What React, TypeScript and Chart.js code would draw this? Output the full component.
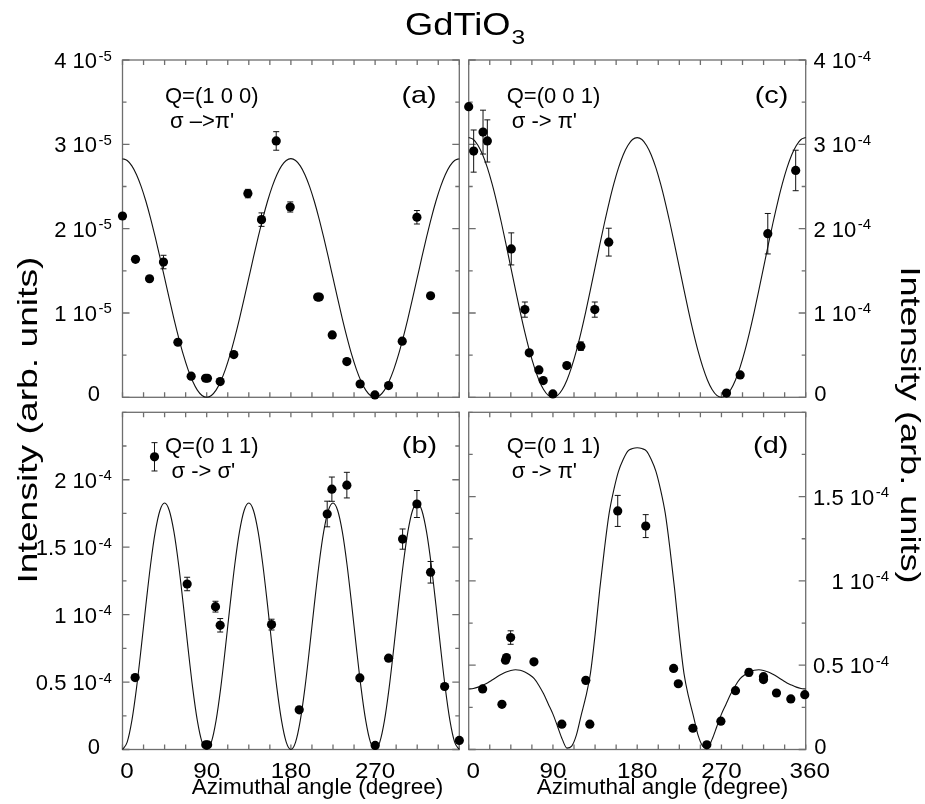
import React, { useEffect, useRef } from "react";
import { Chart, registerables } from "chart.js";

Chart.register(...registerables);

const FONT = '"Liberation Sans", Arimo, Arial, Helvetica, sans-serif';
const FRAME = "#6e6e6e";

// ---------- fitted curves, read every 5 degrees ----------
const curveAngles = [0,5,10,15,20,25,30,35,40,45,50,55,60,65,70,75,80,85,90,95,100,105,110,115,120,125,130,135,140,145,150,155,160,165,170,175,180,185,190,195,200,205,210,215,220,225,230,235,240,245,250,255,260,265,270,275,280,285,290,295,300,305,310,315,320,325,330,335,340,345,350,355,360];

const aCurve = [2.830,2.808,2.745,2.640,2.499,2.325,2.123,1.899,1.661,1.415,1.169,0.931,0.708,0.505,0.331,0.190,0.085,0.022,0.000,
0.022,0.085,0.190,0.331,0.505,0.708,0.931,1.169,1.415,1.661,1.899,2.123,2.325,2.499,2.640,2.745,2.808,2.830,
2.808,2.745,2.640,2.499,2.325,2.123,1.899,1.661,1.415,1.169,0.931,0.708,0.505,0.331,0.190,0.085,0.022,0.000,
0.022,0.085,0.190,0.331,0.505,0.708,0.931,1.169,1.415,1.661,1.899,2.123,2.325,2.499,2.640,2.745,2.808,2.830];

const cCurve = [3.080,3.057,2.987,2.874,2.720,2.530,2.310,2.067,1.807,1.540,1.273,1.013,0.770,0.550,0.360,0.206,0.093,0.023,0.000,
0.023,0.093,0.206,0.360,0.550,0.770,1.013,1.273,1.540,1.807,2.067,2.310,2.530,2.720,2.874,2.987,3.057,3.080,
3.057,2.987,2.874,2.720,2.530,2.310,2.067,1.807,1.540,1.273,1.013,0.770,0.550,0.360,0.206,0.093,0.023,0.000,
0.023,0.093,0.206,0.360,0.550,0.770,1.013,1.273,1.540,1.807,2.067,2.310,2.530,2.720,2.874,2.987,3.057,3.080];

const bCurve = [0,0.055,0.214,0.457,0.755,1.072,1.370,1.613,1.772,1.827,1.772,1.613,1.370,1.072,0.755,0.457,0.214,0.055,
0,0.055,0.214,0.457,0.755,1.072,1.370,1.613,1.772,1.827,1.772,1.613,1.370,1.072,0.755,0.457,0.214,0.055,
0,0.055,0.214,0.457,0.755,1.072,1.370,1.613,1.772,1.827,1.772,1.613,1.370,1.072,0.755,0.457,0.214,0.055,
0,0.055,0.214,0.457,0.755,1.072,1.370,1.613,1.772,1.827,1.772,1.613,1.370,1.072,0.755,0.457,0.214,0.055,0];

const dCurve = [0.359,0.362,0.370,0.382,0.395,0.412,0.430,0.446,0.460,0.469,0.473,0.470,0.460,0.443,0.420,0.380,0.330,0.270,0.210,0.135,0.060,0.008,0.020,0.085,0.200,0.310,0.450,0.680,0.950,1.190,1.400,1.540,1.650,1.720,1.770,1.785,1.790,
1.785,1.770,1.720,1.650,1.540,1.400,1.190,0.950,0.680,0.450,0.310,0.200,0.085,0.020,0.008,0.060,0.135,0.210,0.270,0.330,0.380,0.420,0.443,0.460,0.470,0.473,0.469,0.460,0.446,0.430,0.412,0.395,0.382,0.370,0.362,0.359];

// ---------- measured points ----------
// (a) Q=(1 0 0) sigma->pi', units of 1e-5
const aAngles = [0,13.9,28.9,43.8,59.2,73.4,88.8,90.8,104.4,119,134,148.6,164.3,179.3,208.6,210.4,224.2,239.8,254,269.8,284.4,299,314.7,329.3];
const aValues = [2.15,1.636,1.406,1.604,0.653,0.25,0.226,0.226,0.186,0.507,2.416,2.107,3.04,2.257,1.188,1.188,0.74,0.424,0.158,0.028,0.139,0.665,2.135,1.204];
const aErrors = [0,0,0,0.08,0,0,0,0,0,0,0.05,0.08,0.11,0.06,0,0,0,0,0,0,0,0,0.08,0];

// (c) Q=(0 0 1) sigma->pi', units of 1e-4
const cAngles = [0,5.3,15.3,19.9,45.5,60,64.7,75,79.6,89.9,104.8,119.8,134.7,149.6,275.4,290,319.5,349.3];
const cValues = [3.446,2.92,3.145,3.04,1.76,1.04,0.527,0.325,0.198,0.04,0.376,0.606,1.04,1.84,0.05,0.265,1.94,2.69];
const cErrors = [0,0.25,0.26,0.25,0.19,0.09,0,0,0,0,0,0.05,0.09,0.165,0,0,0.24,0.24];

// (b) Q=(0 1 1) sigma->sigma', units of 1e-4
const bAngles = [13.5,34.2,69.1,89,91,99.4,104.4,159.3,188.9,218.8,223.8,239.8,253.7,270.1,284.4,299.4,314.7,329.3,344.3,360];
const bValues = [0.533,2.17,1.227,0.035,0.035,1.059,0.921,0.926,0.294,1.746,1.93,1.96,0.531,0.03,0.677,1.56,1.82,1.314,0.467,0.067];
const bErrors = [0,0.105,0.05,0,0,0.04,0.05,0.04,0,0.095,0.09,0.095,0,0,0.02,0.075,0.1,0.08,0,0];

// (d) Q=(0 1 1) sigma->pi', units of 1e-4
const dAngles = [14.9,35.5,39.3,40.3,44.8,69.7,99.5,125.1,129.4,159.2,189.1,218.9,223.9,239.5,254.4,269.4,285,299.3,314.9,314.9,328.8,344.1,359];
const dValues = [0.359,0.268,0.53,0.545,0.664,0.52,0.15,0.41,0.15,1.415,1.325,0.481,0.39,0.126,0.028,0.168,0.349,0.457,0.432,0.415,0.335,0.30,0.325];
const dErrors = [0,0,0,0,0.04,0,0,0,0,0.092,0.068,0,0,0,0,0,0,0.02,0,0,0,0,0];

// ---------- ticks ----------
const xTickValues = [0,22.5,45,67.5,90,112.5,135,157.5,180,202.5,225,247.5,270,292.5,315,337.5,360];
const bXLabelValues = [0,90,180,270];
const bXLabels = ["0","90","180","270"];
const dXLabelValues = [0,90,180,270,360];
const dXLabels = ["0","90","180","270","360"];

const aYTicks = [0,0.5,1,1.5,2,2.5,3,3.5,4];
const aYLabelValues = [0,1,2,3,4];
const aYLabels = ["0","1 10^-5","2 10^-5","3 10^-5","4 10^-5"];
const cYTicks = [0,0.5,1,1.5,2,2.5,3,3.5,4];
const cYLabelValues = [0,1,2,3,4];
const cYLabels = ["0","1 10^-4","2 10^-4","3 10^-4","4 10^-4"];
const bYTicks = [0,0.25,0.5,0.75,1,1.25,1.5,1.75,2,2.25,2.5];
const bYLabelValues = [0,0.5,1,1.5,2];
const bYLabels = ["0","0.5 10^-4","1 10^-4","1.5 10^-4","2 10^-4"];
const dYTicks = [0,0.25,0.5,0.75,1,1.25,1.5,1.75,2];
const dYLabelValues = [0,0.5,1,1.5];
const dYLabels = ["0","0.5 10^-4","1 10^-4","1.5 10^-4"];

const TITLE = "GdTiO";
const TITLE_SUB = "3";
const Y_TITLE = "Intensity (arb. units)";
const X_TITLE = "Azimuthal angle (degree)";

type Panel = {
  key: string;
  area: { l: number; t: number; r: number; b: number };
  yMax: number;
  angles: number[]; values: number[]; errors: number[]; curve: number[];
  yTicks: number[]; yLabelValues: number[]; yLabels: string[];
  side: "left" | "right"; anchor: number;
  xLabelValues?: number[]; xLabels?: string[]; xTitleX?: number;
  q: string; s: string; tag: string; qdx: number; sdx: number; tagdx: number; qdy: number;
};

const PANELS: Panel[] = [
  { key: "a", area: { l: 122.5, t: 60, r: 459.3, b: 397.3 }, yMax: 4,
    angles: aAngles, values: aValues, errors: aErrors, curve: aCurve,
    yTicks: aYTicks, yLabelValues: aYLabelValues, yLabels: aYLabels, side: "left", anchor: -25.5,
    q: "Q=(1 0 0)", s: "σ –>π'", tag: "(a)", qdx: 42.5, sdx: 47.5, tagdx: 22.6, qdy: 43 },
  { key: "c", area: { l: 468.7, t: 60, r: 805.7, b: 397.3 }, yMax: 4,
    angles: cAngles, values: cValues, errors: cErrors, curve: cCurve,
    yTicks: cYTicks, yLabelValues: cYLabelValues, yLabels: cYLabels, side: "right", anchor: 50.5,
    q: "Q=(0 0 1)", s: "σ -> π'", tag: "(c)", qdx: 38, sdx: 43, tagdx: 17.4, qdy: 43 },
  { key: "b", area: { l: 122.5, t: 412.3, r: 459.3, b: 749.5 }, yMax: 2.5,
    angles: bAngles, values: bValues, errors: bErrors, curve: bCurve,
    yTicks: bYTicks, yLabelValues: bYLabelValues, yLabels: bYLabels, side: "left", anchor: -25.5,
    xLabelValues: bXLabelValues, xLabels: bXLabels, xTitleX: 317.5,
    q: "Q=(0 1 1)", s: "σ -> σ'", tag: "(b)", qdx: 42.5, sdx: 49, tagdx: 22.3, qdy: 41 },
  { key: "d", area: { l: 468.7, t: 412.3, r: 805.7, b: 749.5 }, yMax: 2,
    angles: dAngles, values: dValues, errors: dErrors, curve: dCurve,
    yTicks: dYTicks, yLabelValues: dYLabelValues, yLabels: dYLabels, side: "right", anchor: 68.5,
    xLabelValues: dXLabelValues, xLabels: dXLabels, xTitleX: 662.5,
    q: "Q=(0 1 1)", s: "σ -> π'", tag: "(d)", qdx: 38, sdx: 43, tagdx: 17.4, qdy: 41 },
];

function txt(ctx: CanvasRenderingContext2D, s: string, x: number, y: number, size: number,
  align: CanvasTextAlign = "left", sx = 1, rot = 0) {
  ctx.save();
  ctx.font = `${size}px ${FONT}`;
  ctx.fillStyle = "#000";
  ctx.textAlign = align;
  ctx.textBaseline = "alphabetic";
  ctx.translate(x, y);
  if (rot) ctx.rotate(rot);
  ctx.scale(sx, 1);
  ctx.fillText(s, 0, 0);
  ctx.restore();
}

function makeDecor(p: Panel) {
  return {
    id: "decor" + p.key,
    beforeDatasetsDraw(chart: any) {
      const { ctx, chartArea: ca } = chart;
      const xs = chart.scales.x, ys = chart.scales.y;
      ctx.save();
      ctx.strokeStyle = FRAME;
      ctx.lineWidth = 1.3;
      ctx.strokeRect(ca.left, ca.top, ca.right - ca.left, ca.bottom - ca.top);
      ctx.beginPath();
      for (const v of xTickValues) {
        const px = xs.getPixelForValue(v);
        ctx.moveTo(px, ca.bottom); ctx.lineTo(px, ca.bottom - 5);
        ctx.moveTo(px, ca.top); ctx.lineTo(px, ca.top + 5);
      }
      for (const v of p.yTicks) {
        const py = ys.getPixelForValue(v);
        const len = p.yLabelValues.includes(v) ? 7 : 4;
        ctx.moveTo(ca.left, py); ctx.lineTo(ca.left + len, py);
        ctx.moveTo(ca.right, py); ctx.lineTo(ca.right - len, py);
      }
      ctx.stroke();
      // error bars
      ctx.strokeStyle = "#111";
      ctx.lineWidth = 1;
      ctx.beginPath();
      p.angles.forEach((a, i) => {
        const e = p.errors[i];
        if (!e) return;
        const px = xs.getPixelForValue(a);
        const y1 = ys.getPixelForValue(p.values[i] - e);
        const y2 = ys.getPixelForValue(p.values[i] + e);
        ctx.moveTo(px, y1); ctx.lineTo(px, y2);
        ctx.moveTo(px - 3, y1); ctx.lineTo(px + 3, y1);
        ctx.moveTo(px - 3, y2); ctx.lineTo(px + 3, y2);
      });
      ctx.stroke();
      ctx.restore();
    },
    afterDraw(chart: any) {
      const { ctx, chartArea: ca } = chart;
      const xs = chart.scales.x, ys = chart.scales.y;
      // y tick labels
      p.yLabelValues.forEach((v, i) => {
        const py = ys.getPixelForValue(v);
        const lab = p.yLabels[i];
        const [main, sup] = lab.split("^");
        if (!sup) {
          if (p.side === "left") txt(ctx, main, ca.left - 22.5, py + 4, 22, "right");
          else txt(ctx, main, ca.right + 8.5, py + 4, 22, "left");
          return;
        }
        const ax = p.side === "left" ? ca.left + p.anchor : ca.right + p.anchor;
        txt(ctx, main, ax, py + 8, 22, "right");
        txt(ctx, sup, ax + 1.5, py + 0.5, 15, "left");
      });
      // x tick labels
      if (p.xLabelValues && p.xLabels) {
        p.xLabelValues.forEach((v, i) => {
          let px = xs.getPixelForValue(v);
          if (v === 0) px += 4.5;
          if (v === 360) px += 4;
          txt(ctx, p.xLabels![i], px, 778, 22, "center", 1.1);
        });
        txt(ctx, X_TITLE, p.xTitleX!, 794, 22.5, "center");
      }
      // annotations
      txt(ctx, p.q, ca.left + p.qdx, ca.top + p.qdy, 22, "left");
      txt(ctx, p.s, ca.left + p.sdx, ca.top + p.qdy + 25, 22, "left");
      txt(ctx, p.tag, ca.right - p.tagdx, ca.top + p.qdy, 24, "right", 1.2);
      // page-level texts
      if (p.key === "a") {
        const sx = 1.17;
        ctx.save();
        ctx.font = `31px ${FONT}`;
        const w = ctx.measureText(TITLE).width * sx;
        ctx.restore();
        const x0 = 405;
        txt(ctx, TITLE, x0, 35, 31, "left", sx);
        txt(ctx, TITLE_SUB, x0 + w + 1, 44, 21, "left", sx);
        txt(ctx, Y_TITLE, 37.3, 420, 28, "center", 1.33, -Math.PI / 2);
      }
      if (p.key === "c") {
        txt(ctx, Y_TITLE, 900.7, 425, 28, "center", 1.29, Math.PI / 2);
      }
    },
  };
}

function PanelChart({ p }: { p: Panel }) {
  const ref = useRef<HTMLCanvasElement | null>(null);
  useEffect(() => {
    if (!ref.current) return;
    const chart = new Chart(ref.current, {
      type: "scatter",
      data: {
        datasets: [
          {
            data: p.angles.map((a, i) => ({ x: a, y: p.values[i] })),
            pointRadius: 4.6,
            pointBackgroundColor: "#000",
            pointBorderWidth: 0,
            showLine: false,
            clip: false,
          } as any,
          {
            data: curveAngles.map((a, i) => ({ x: a, y: p.curve[i] })),
            showLine: true,
            borderColor: "#111",
            borderWidth: 1.1,
            pointRadius: 0,
            cubicInterpolationMode: "monotone",
            fill: false,
            clip: false,
          } as any,
        ],
      },
      options: {
        animation: false,
        responsive: false,
        devicePixelRatio: 1,
        events: [],
        layout: {
          padding: { left: p.area.l, top: p.area.t, right: 925 - p.area.r, bottom: 804 - p.area.b },
        },
        scales: {
          x: { type: "linear", min: 0, max: 360, display: false },
          y: { type: "linear", min: 0, max: p.yMax, display: false },
        },
        plugins: { legend: { display: false }, tooltip: { enabled: false } },
      },
      plugins: [makeDecor(p)],
    });
    return () => chart.destroy();
  }, [p]);
  return (
    <canvas
      ref={ref}
      width={925}
      height={804}
      style={{ position: "absolute", left: 0, top: 0, width: 925, height: 804 }}
    />
  );
}

export default function App() {
  return (
    <div style={{ position: "absolute", left: 0, top: 0, width: 925, height: 804, background: "#fff", overflow: "hidden" }}>
      {PANELS.map((p) => (
        <PanelChart key={p.key} p={p} />
      ))}
    </div>
  );
}
